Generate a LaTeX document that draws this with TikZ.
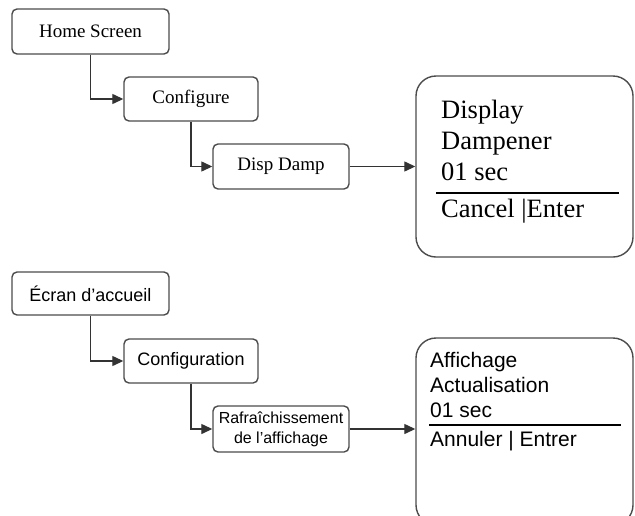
\documentclass[tikz,border=0pt]{standalone}
\usepackage{fontspec}
\setmainfont{Liberation Serif}
\setsansfont{Liberation Sans}
\usetikzlibrary{arrows.meta}
\begin{document}
\begin{tikzpicture}[x=1pt,y=-1pt,
  smallbox/.style={draw=black!70, line width=1.4pt, rounded corners=5pt, fill=white, inner sep=0pt},
  screenbox/.style={draw=black!70, line width=1.4pt, rounded corners=20pt, fill=white, inner sep=0pt},
  conn/.style={draw=black!80, line width=1.3pt, -{Triangle[length=11pt,width=10pt]}},
  sep/.style={draw=black},
  serifA/.style={font=\fontsize{19}{22}\selectfont},
  serifB/.style={font=\fontsize{26.5}{30}\selectfont, anchor=base west, inner sep=0pt},
  sansA/.style={font=\sffamily\fontsize{18}{21}\selectfont},
  sansR/.style={font=\sffamily\fontsize{16}{20}\selectfont, align=center},
  sansB/.style={font=\sffamily\fontsize{21}{25}\selectfont, anchor=base west, inner sep=0pt}]
\useasboundingbox (0,0) rectangle (635,515);
\clip (0,0) rectangle (635,515);
\fill[white] (0,0) rectangle (635,515);
% top section
\node[smallbox, serifA, minimum width=157pt, minimum height=45pt] (home) at (90.5,31.5) {Home Screen};
\node[smallbox, serifA, minimum width=134pt, minimum height=44pt] (conf) at (191,99) {Configure};
\node[smallbox, serifA, minimum width=136pt, minimum height=45pt] (disp) at (281,166.5) {Disp Damp};
\node[screenbox, minimum width=217pt, minimum height=181pt] (scr) at (524.5,166.5) {};
\node[serifB] (t1) at (441,118) {Display};
\node[serifB] (t2) at (441,149.5) {Dampener};
\node[serifB] (t3) at (441,180) {01 sec};
\node[serifB] (t4) at (441,217) {Cancel |Enter};
\coordinate (s1a) at (436,193);
\coordinate (s1b) at (619,193);
\draw[sep, line width=2.6pt] (s1a) -- (s1b);
\draw[conn] (home.south) |- (conf.west);
\draw[conn] (conf.south) |- (disp.west);
\draw[conn] (disp.east) -- (disp.east -| scr.west);
% bottom section
\node[smallbox, sansA, minimum width=157pt, minimum height=43pt] (ecran) at (90.5,293.5) {Écran d’accueil};
\node[smallbox, sansA, minimum width=134pt, minimum height=44pt] (config) at (191,361) {Configuration};
\node[smallbox, sansR, minimum width=136pt, minimum height=46pt] (rafr) at (281,429) {Rafraîchissement\\de l’affichage};
\node[screenbox, minimum width=217pt, minimum height=187pt] (scr2) at (524.5,431.5) {};
\node[sansB] (u1) at (430,367) {Affichage};
\node[sansB] (u2) at (430,392) {Actualisation};
\node[sansB] (u3) at (430,417) {01 sec};
\node[sansB] (u4) at (430,446) {Annuler | Entrer};
\coordinate (s2a) at (429,425);
\coordinate (s2b) at (621,425);
\draw[sep, line width=1.6pt] (s2a) -- (s2b);
\draw[conn] (ecran.south) |- (config.west);
\draw[conn] (config.south) |- (rafr.west);
\draw[conn] (rafr.east) -- (rafr.east -| scr2.west);
\end{tikzpicture}
\end{document}
